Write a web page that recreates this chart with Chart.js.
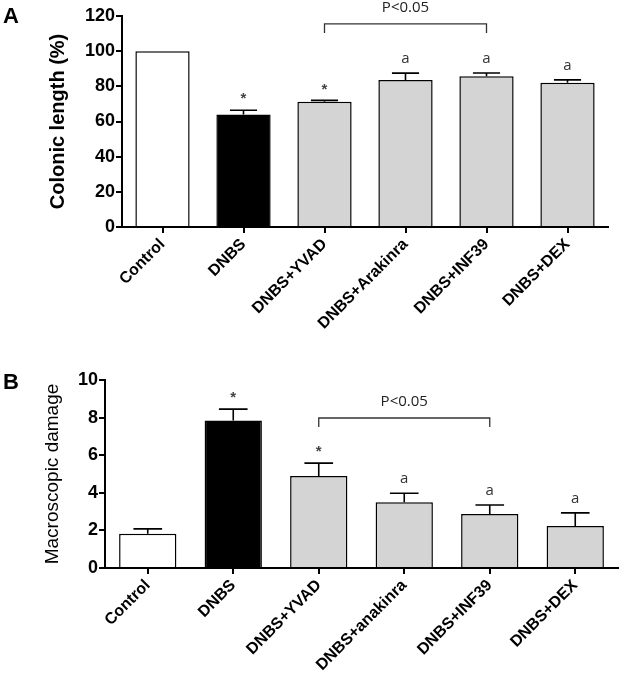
<!DOCTYPE html>
<html><head><meta charset="utf-8">
<script src="https://cdn.jsdelivr.net/npm/chart.js@4.4.0/dist/chart.umd.min.js"></script>
<style>
html,body{margin:0;padding:0;background:#fff;}
#wrap{position:relative;width:624px;height:675px;overflow:hidden;background:#fff;}
canvas{position:absolute;left:0;}
.lbl{position:absolute;font:bold 22px "Liberation Sans",Arial,sans-serif;color:#000;line-height:22px;}
</style></head><body>
<div id="wrap">
<canvas id="cA" width="624" height="338" style="top:0"></canvas>
<canvas id="cB" width="624" height="337" style="top:338px"></canvas>
<div class="lbl" style="left:3px;top:5px">A</div>
<div class="lbl" style="left:3px;top:371px">B</div>
</div>
<script>
// ---- Data ----
const categoriesA = ['Control', 'DNBS', 'DNBS+YVAD', 'DNBS+Arakinra', 'DNBS+INF39', 'DNBS+DEX'];
const colonicLength = [100, 64, 71.2, 83.6, 85.8, 82];
const colonicLengthErr = [0, 2.4, 0.8, 3.9, 1.8, 1.7];
const marksA = ['', '*', '*', 'a', 'a', 'a'];
const ticksA = [0, 20, 40, 60, 80, 100, 120];

const categoriesB = ['Control', 'DNBS', 'DNBS+YVAD', 'DNBS+anakinra', 'DNBS+INF39', 'DNBS+DEX'];
const macroDamage = [1.82, 7.85, 4.9, 3.5, 2.87, 2.23];
const macroDamageErr = [0.26, 0.6, 0.68, 0.48, 0.48, 0.7];
const marksB = ['', '*', '*', 'a', 'a', 'a'];
const ticksB = [0, 2, 4, 6, 8, 10];

const barColors = ['#ffffff', '#000000', '#d4d4d4', '#d4d4d4', '#d4d4d4', '#d4d4d4'];

// ---- Overlay plugin: error bars, significance marks, bracket ----
const overlay = {
  id: 'overlay',
  afterDatasetsDraw(chart, args, o) {
    const ctx = chart.ctx;
    const meta = chart.getDatasetMeta(0);
    const ys = chart.scales.y, xs = chart.scales.x;
    const vals = chart.data.datasets[0].data;
    ctx.save();
    ctx.strokeStyle = '#000';
    ctx.lineWidth = 1.6;
    meta.data.forEach((bar, i) => {
      const e = o.errors[i];
      const top = ys.getPixelForValue(vals[i] + e);
      if (e > 0) {
        const half = bar.width * 0.25;
        ctx.beginPath();
        ctx.moveTo(bar.x, bar.y);
        ctx.lineTo(bar.x, top);
        ctx.moveTo(bar.x - half, top);
        ctx.lineTo(bar.x + half, top);
        ctx.stroke();
      }
      const m = o.marks[i];
      if (m) {
        ctx.fillStyle = m === '*' ? '#444' : '#333';
        ctx.font = m === '*' ? 'bold 15px "Liberation Sans", Arial' : '15px "Open Sans"';
        ctx.textAlign = 'center';
        ctx.textBaseline = 'middle';
        ctx.fillText(m, bar.x, top - (m === '*' ? 11 : 14));
      }
    });
    // bracket
    const b = o.bracket;
    const x1 = xs.getPixelForValue(b.from), x2 = xs.getPixelForValue(b.to);
    const yt = ys.getPixelForValue(b.top), yb = ys.getPixelForValue(b.bottom);
    ctx.strokeStyle = '#333';
    ctx.lineWidth = 1.3;
    ctx.beginPath();
    ctx.moveTo(x1, yb); ctx.lineTo(x1, yt); ctx.lineTo(x2, yt); ctx.lineTo(x2, yb);
    ctx.stroke();
    ctx.fillStyle = '#222';
    ctx.font = '15px "Open Sans"';
    ctx.textAlign = 'center';
    ctx.textBaseline = 'middle';
    ctx.fillText(b.label, (x1 + x2) / 2, ys.getPixelForValue(b.textAt));
    ctx.restore();
  }
};

function makeChart(id, labels, values, errors, marks, tickVals, cfg) {
  return new Chart(document.getElementById(id), {
    type: 'bar',
    data: {
      labels: labels,
      datasets: [{
        data: values,
        backgroundColor: barColors,
        borderColor: '#000',
        borderWidth: 1.5,
        barPercentage: 0.67,
        categoryPercentage: 1.0
      }]
    },
    plugins: [overlay],
    options: {
      responsive: false,
      animation: false,
      devicePixelRatio: 1,
      layout: { padding: cfg.padding },
      plugins: {
        legend: { display: false },
        tooltip: { enabled: false },
        overlay: { errors: errors, marks: marks, bracket: cfg.bracket }
      },
      scales: {
        x: {
          offset: true,
          afterFit: s => { s.height = cfg.xHeight; },
          border: { color: '#000', width: 2 },
          grid: { display: true, offset: false, drawOnChartArea: false, drawTicks: true, tickLength: 6, color: '#000', lineWidth: 2 },
          ticks: { color: '#000', font: { family: '"Liberation Sans", Arial', size: 16, weight: 'bold' }, minRotation: 45, maxRotation: 45, padding: 2, autoSkip: false }
        },
        y: {
          min: tickVals[0],
          max: tickVals[tickVals.length - 1],
          afterFit: s => { s.width = cfg.yWidth; },
          afterBuildTicks: s => { s.ticks = tickVals.map(v => ({ value: v })); },
          border: { color: '#000', width: 2 },
          grid: { display: true, drawOnChartArea: false, drawTicks: true, tickLength: 6, color: '#000', lineWidth: 2 },
          ticks: { color: '#000', font: { family: '"Liberation Sans", Arial', size: 18, weight: 'bold' }, padding: 1 },
          title: { display: true, text: cfg.title, color: '#000', font: cfg.titleFont, padding: { top: cfg.titlePad, bottom: 0 } }
        }
      }
    }
  });
}

makeChart('cA', categoriesA, colonicLength, colonicLengthErr, marksA, ticksA, {
  padding: { left: 0, right: 16, top: 16, bottom: 0 },
  xHeight: 111, yWidth: 122,
  title: 'Colonic length (%)',
  titleFont: { family: '"Liberation Sans", Arial', size: 20, weight: 'bold' },
  titlePad: 46,
  bracket: { from: 2, to: 4, top: 115.5, bottom: 110.3, textAt: 124.5, label: 'P<0.05' }
});

makeChart('cB', categoriesB, macroDamage, macroDamageErr, marksB, ticksB, {
  padding: { left: 0, right: 6, top: 42, bottom: 0 },
  xHeight: 107, yWidth: 105,
  title: 'Macroscopic damage',
  titleFont: { family: '"Liberation Sans", Arial', size: 19, weight: 'normal' },
  titlePad: 41,
  bracket: { from: 2, to: 4, top: 7.98, bottom: 7.5, textAt: 8.83, label: 'P<0.05' }
});
</script>
</body></html>
